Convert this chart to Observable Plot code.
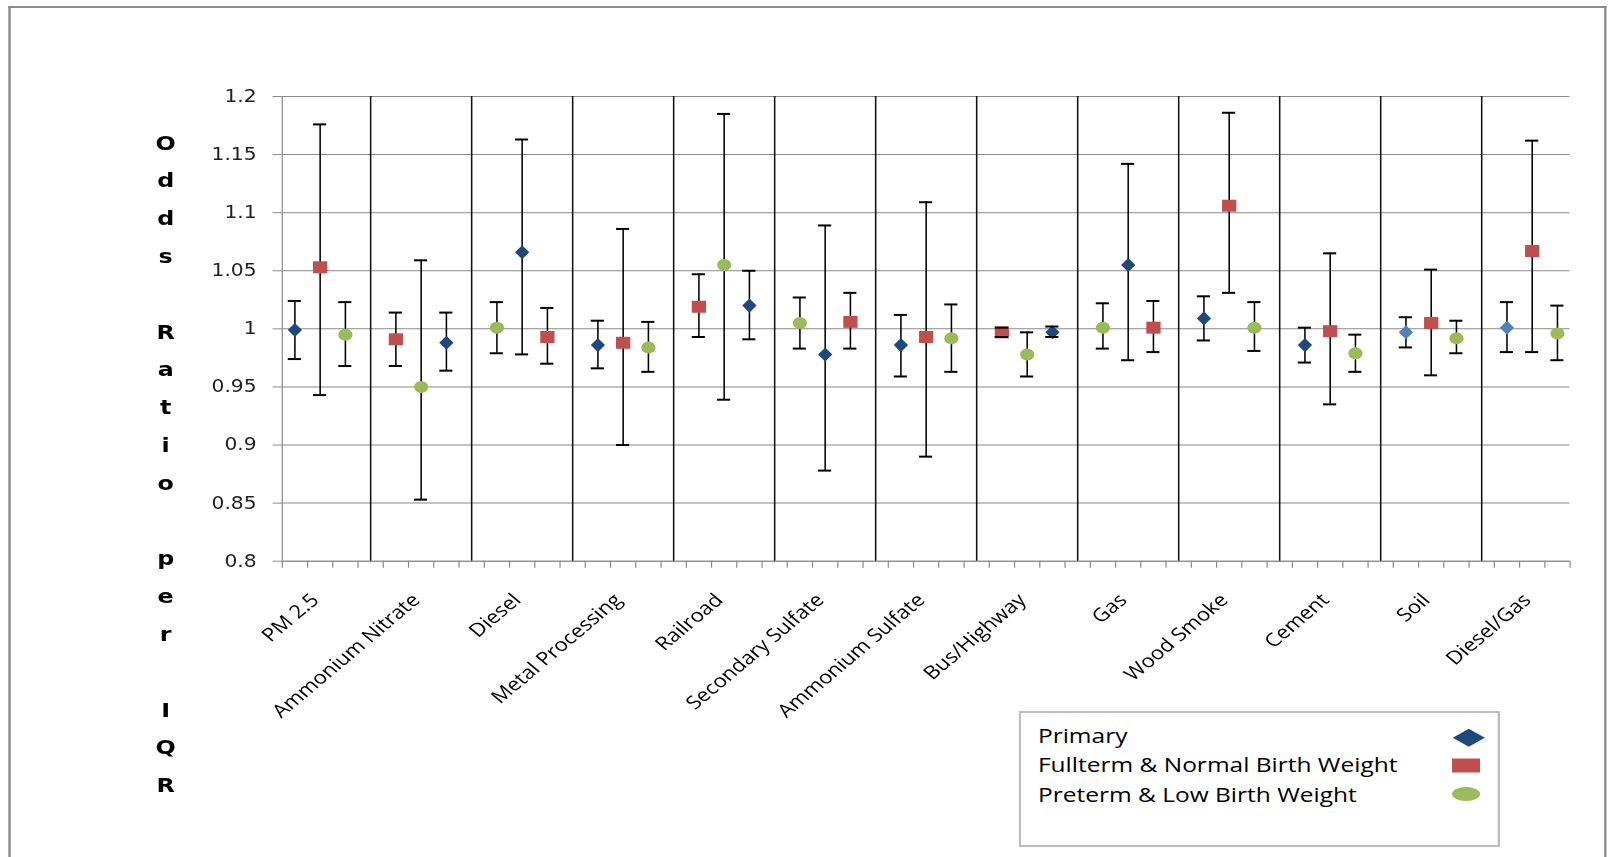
<!DOCTYPE html>
<html>
<head>
<meta charset="utf-8">
<script src="https://cdn.jsdelivr.net/npm/d3@7"></script>
<script src="https://cdn.jsdelivr.net/npm/@observablehq/plot@0.6"></script>
<style>
  html, body { margin: 0; padding: 0; background: #fff; overflow: hidden; }
  #page { position: relative; width: 1358px; height: 857px; transform: scaleX(1.19); transform-origin: 0 0; }
  #frame { position: absolute; left: 6.7px; top: 6px; width: 1343px; height: 900px;
           border: 2px solid #8c8c8c; border-bottom: none; box-sizing: border-box; }
  #chart { position: absolute; left: 0; top: 0; }
  #legend { position: absolute; left: 856px; top: 711px; }
</style>
</head>
<body>
<div id="page">
  <div id="frame"></div>
  <div id="chart"></div>
  <div id="legend"></div>
</div>
<script>
// Odds ratio per IQR of each PM2.5 source, for three birth-outcome groups.
const categories = ["PM 2.5", "Ammonium Nitrate", "Diesel", "Metal Processing", "Railroad",
  "Secondary Sulfate", "Ammonium Sulfate", "Bus/Highway", "Gas", "Wood Smoke", "Cement", "Soil", "Diesel/Gas"];

// Order of the three series inside each category block
// (P = Primary, F = Fullterm & Normal, L = Preterm & Low)
const slotOrder = ["PFL", "FLP", "LPF", "PFL", "FLP", "LPF", "PFL", "FLP", "LPF", "PFL", "PFL", "PFL", "PFL"];

const primaryOR = [0.999, 0.988, 1.066, 0.986, 1.020, 0.978, 0.986, 0.997, 1.055, 1.009, 0.986, 0.997, 1.001];
const primaryLo = [0.974, 0.964, 0.978, 0.966, 0.991, 0.878, 0.959, 0.993, 0.973, 0.990, 0.971, 0.984, 0.980];
const primaryHi = [1.024, 1.014, 1.163, 1.007, 1.050, 1.089, 1.012, 1.002, 1.142, 1.028, 1.001, 1.010, 1.023];

const fulltermOR = [1.053, 0.991, 0.993, 0.988, 1.019, 1.006, 0.993, 0.997, 1.001, 1.106, 0.998, 1.005, 1.067];
const fulltermLo = [0.943, 0.968, 0.970, 0.900, 0.993, 0.983, 0.890, 0.993, 0.980, 1.031, 0.935, 0.960, 0.980];
const fulltermHi = [1.176, 1.014, 1.018, 1.086, 1.047, 1.031, 1.109, 1.001, 1.024, 1.186, 1.065, 1.051, 1.162];

const pretermOR = [0.995, 0.950, 1.001, 0.984, 1.055, 1.005, 0.992, 0.978, 1.001, 1.001, 0.979, 0.992, 0.996];
const pretermLo = [0.968, 0.853, 0.979, 0.963, 0.939, 0.983, 0.963, 0.959, 0.983, 0.981, 0.963, 0.979, 0.973];
const pretermHi = [1.023, 1.059, 1.023, 1.006, 1.185, 1.027, 1.021, 0.997, 1.022, 1.023, 0.995, 1.007, 1.020];

const yTicks = [0.8, 0.85, 0.9, 0.95, 1, 1.05, 1.1, 1.15, 1.2];
const seriesNames = ["Primary", "Fullterm & Normal Birth Weight", "Preterm & Low Birth Weight"];
const lighterPrimary = new Set(["Soil", "Diesel/Gas"]);

const colors = { P: "#1F497D", Plight: "#4F81BD", F: "#C0504D", L: "#9BBB59" };

// Each category occupies 4 slots: three series plus a spacer holding the divider.
const slotsPer = 4;
const nSlots = categories.length * slotsPer - 1;

const series = [
  { code: "P", or: primaryOR, lo: primaryLo, hi: primaryHi },
  { code: "F", or: fulltermOR, lo: fulltermLo, hi: fulltermHi },
  { code: "L", or: pretermOR, lo: pretermLo, hi: pretermHi }
];

const rows = [];
categories.forEach((cat, i) => {
  series.forEach(s => {
    const slot = i * slotsPer + slotOrder[i].indexOf(s.code);
    rows.push({
      category: cat, code: s.code, x: slot + 0.5,
      or: s.or[i], lo: s.lo[i], hi: s.hi[i],
      fill: s.code === "P" ? (lighterPrimary.has(cat) ? colors.Plight : colors.P) : colors[s.code]
    });
  });
});

// Marker shapes (size is r²π, as Plot passes it)
const diamond = { draw(ctx, size) { const r = Math.sqrt(size / Math.PI); const h = r * 1.17;
  ctx.moveTo(0, -h); ctx.lineTo(r, 0); ctx.lineTo(0, h); ctx.lineTo(-r, 0); ctx.closePath(); } };
const square = { draw(ctx, size) { const r = Math.sqrt(size / Math.PI);
  ctx.rect(-r, -r, 2 * r, 2 * r); } };
const circle = { draw(ctx, size) { const r = Math.sqrt(size / Math.PI);
  ctx.moveTo(r, 0); ctx.arc(0, 0, r, 0, 2 * Math.PI); } };
const symbolFor = { P: diamond, F: square, L: circle };

const capHalf = 0.26;
const gray = "#8a8a8a";

const dividers = categories.slice(0, -1).map((d, i) => i * slotsPer + slotsPer - 0.5);
const yTitle = "O\nd\nd\ns\n\nR\na\nt\ni\no\n\np\ne\nr\n\nI\nQ\nR";

const chart = Plot.plot({
  width: 1358,
  height: 857,
  marginLeft: 236.7,
  marginRight: 39.1,
  marginTop: 96,
  marginBottom: 296.3,
  x: { domain: [0, nSlots], axis: null },
  y: { domain: [0.8, 1.2], axis: null },
  color: { type: "identity" },
  style: { background: "transparent", overflow: "visible" },
  marks: [
    Plot.gridY(yTicks, { stroke: gray, strokeOpacity: 1, strokeWidth: 1 }),
    Plot.axisY(yTicks, {
      tickSize: 7.6, tickPadding: 14, stroke: gray, strokeOpacity: 1,
      tickFormat: d => String(+d.toFixed(2)),
      fontSize: 17, fontFamily: "DejaVu Sans", fill: "#222", label: null
    }),
    Plot.axisX(d3.range(nSlots + 1), {
      tickSize: 7, stroke: gray, strokeOpacity: 1, tickFormat: () => "", label: null
    }),
    Plot.ruleX([0], { stroke: gray, strokeWidth: 1 }),
    Plot.ruleY([0.8], { stroke: gray, strokeWidth: 1 }),
    Plot.ruleX(dividers, { x: d => d, y1: 0.8, y2: 1.2, stroke: "#111", strokeWidth: 1.3 }),
    // error bar stems
    Plot.ruleX(rows, { x: "x", y1: "lo", y2: "hi", stroke: "#000", strokeWidth: 1.3 }),
    // point estimates
    ...["P", "F", "L"].map(code => Plot.dot(rows.filter(d => d.code === code), {
      x: "x", y: "or", symbol: symbolFor[code], r: 6, fill: "fill", stroke: "none"
    })),
    // error bar caps
    Plot.ruleY(rows, { y: "hi", x1: d => d.x - capHalf, x2: d => d.x + capHalf, stroke: "#000", strokeWidth: 2 }),
    Plot.ruleY(rows, { y: "lo", x1: d => d.x - capHalf, x2: d => d.x + capHalf, stroke: "#000", strokeWidth: 2 }),
    // category labels
    Plot.text(categories, {
      x: (d, i) => i * slotsPer + 1.5, frameAnchor: "bottom", text: d => d,
      rotate: -45, textAnchor: "end", lineAnchor: "bottom", dx: 0, dy: 40,
      fontSize: 18.5, fontFamily: "Open Sans", fill: "#000"
    }),
    // vertical y-axis title
    Plot.text([yTitle], {
      frameAnchor: "left", text: d => d, dx: -98, dy: 130,
      lineAnchor: "middle", lineHeight: 1.89, textAnchor: "middle",
      fontSize: 20, fontWeight: "bold", fontFamily: "DejaVu Sans", fill: "#000"
    })
  ]
});
document.getElementById("chart").appendChild(chart);

// Legend box
const lw = 404.6, lh = 136;
const legend = d3.select("#legend").append("svg")
  .attr("width", lw).attr("height", lh)
  .style("overflow", "visible");
legend.append("rect").attr("x", 1).attr("y", 1).attr("width", lw - 2).attr("height", lh - 2)
  .attr("fill", "#fff").attr("stroke", "#bdbdbd").attr("stroke-width", 2);
const baselines = [31.7, 61, 91];
seriesNames.forEach((name, i) => {
  legend.append("text").attr("x", 16.2).attr("y", baselines[i])
    .attr("font-family", "Open Sans").attr("font-size", 20.6).attr("fill", "#000").text(name);
});
legend.append("path").attr("d", "M378.3,17.7 L391.8,26.7 L378.3,35.7 L364.8,26.7 Z").attr("fill", colors.P);
legend.append("rect").attr("x", 364.2).attr("y", 47.5).attr("width", 23.5).attr("height", 14).attr("fill", colors.F);
legend.append("ellipse").attr("cx", 376).attr("cy", 83).attr("rx", 11.75).attr("ry", 7).attr("fill", colors.L);
</script>
</body>
</html>
